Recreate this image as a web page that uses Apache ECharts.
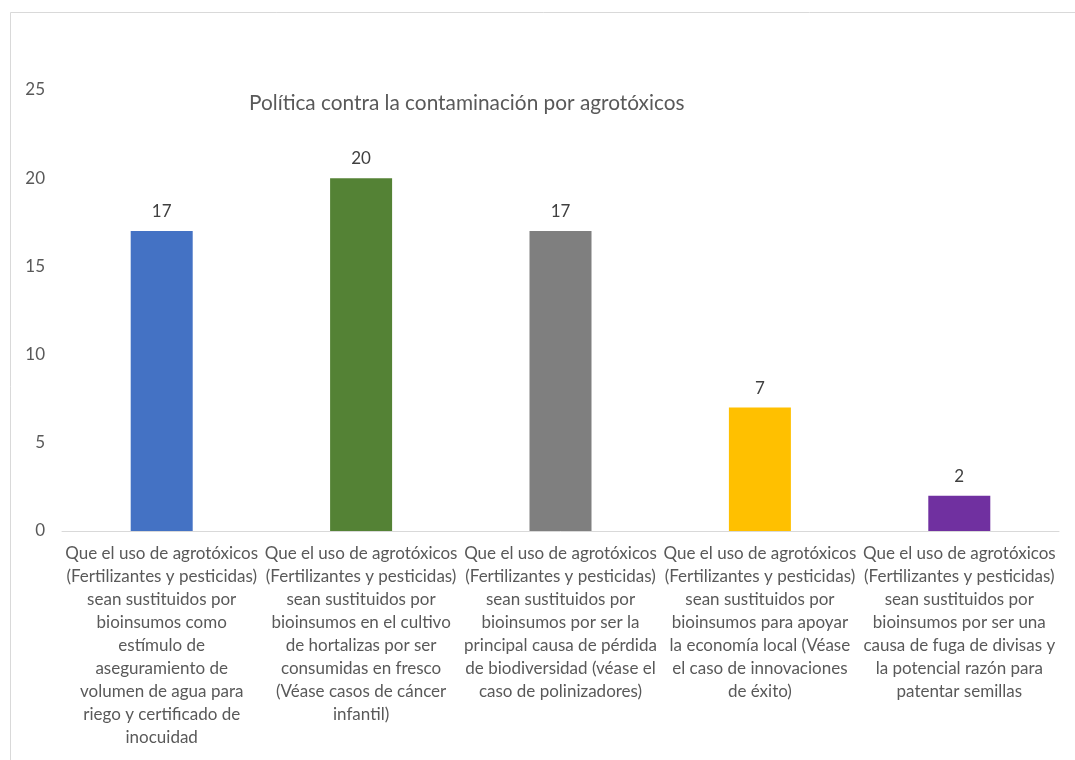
<!DOCTYPE html>
<html>
<head>
<meta charset="utf-8">
<script src="https://cdn.jsdelivr.net/npm/echarts@6/dist/echarts.min.js"></script>
<style>
  html, body { margin: 0; padding: 0; background: #fff; }
  #chart { width: 1075px; height: 760px; }
</style>
</head>
<body>
<div id="chart"></div>
<script>
const titleText = 'Política contra la contaminación por agrotóxicos';

const categories = [
  'Que el uso de agrotóxicos\n(Fertilizantes y pesticidas)\nsean sustituidos por\nbioinsumos como\nestímulo de\naseguramiento de\nvolumen de agua para\nriego y certificado de\ninocuidad',
  'Que el uso de agrotóxicos\n(Fertilizantes y pesticidas)\nsean sustituidos por\nbioinsumos en el cultivo\nde hortalizas por ser\nconsumidas en fresco\n(Véase casos de cáncer\ninfantil)',
  'Que el uso de agrotóxicos\n(Fertilizantes y pesticidas)\nsean sustituidos por\nbioinsumos por ser la\nprincipal causa de pérdida\nde biodiversidad (véase el\ncaso de polinizadores)',
  'Que el uso de agrotóxicos\n(Fertilizantes y pesticidas)\nsean sustituidos por\nbioinsumos para apoyar\nla economía local (Véase\nel caso de innovaciones\nde éxito)',
  'Que el uso de agrotóxicos\n(Fertilizantes y pesticidas)\nsean sustituidos por\nbioinsumos por ser una\ncausa de fuga de divisas y\nla potencial razón para\npatentar semillas'
];

const values = [17, 20, 17, 7, 2];
const barColors = ['#4472C4', '#548235', '#7F7F7F', '#FFC000', '#7030A0'];
const yTicks = [0, 5, 10, 15, 20, 25];

const font = 'Lato, "Open Sans", sans-serif';
const textColor = '#595959';

const chart = echarts.init(document.getElementById('chart'), null, { renderer: 'canvas' });

chart.setOption({
  animation: false,
  backgroundColor: '#ffffff',
  graphic: [{
    type: 'rect',
    left: 8,
    top: 10,
    shape: { width: 1080, height: 770 },
    style: { fill: 'none', stroke: '#d9d9d9', lineWidth: 1 },
    z: -1
  }],
  title: {
    text: titleText,
    left: 244,
    top: 88,
    textStyle: { fontFamily: font, fontSize: 20.8, fontWeight: 'normal', color: textColor }
  },
  grid: { left: 62, right: 16, top: 90, bottom: 229, containLabel: false },
  xAxis: {
    type: 'category',
    data: categories,
    axisLine: { lineStyle: { color: '#d9d9d9', width: 1 } },
    axisTick: { show: false },
    axisLabel: {
      interval: 0,
      margin: 11,
      color: textColor,
      fontFamily: font,
      fontSize: 17,
      lineHeight: 23,
      align: 'center'
    }
  },
  yAxis: {
    type: 'value',
    min: yTicks[0],
    max: yTicks[yTicks.length - 1],
    interval: 5,
    splitLine: { show: false },
    axisLine: { show: false },
    axisTick: { show: false },
    axisLabel: {
      margin: 17,
      color: textColor,
      fontFamily: font,
      fontSize: 17
    }
  },
  series: [{
    type: 'bar',
    data: values.map((v, i) => ({ value: v, itemStyle: { color: barColors[i] } })),
    barWidth: 62,
    label: {
      show: true,
      position: 'top',
      distance: 11,
      color: '#404040',
      fontFamily: font,
      fontSize: 17
    }
  }]
});
</script>
</body>
</html>
